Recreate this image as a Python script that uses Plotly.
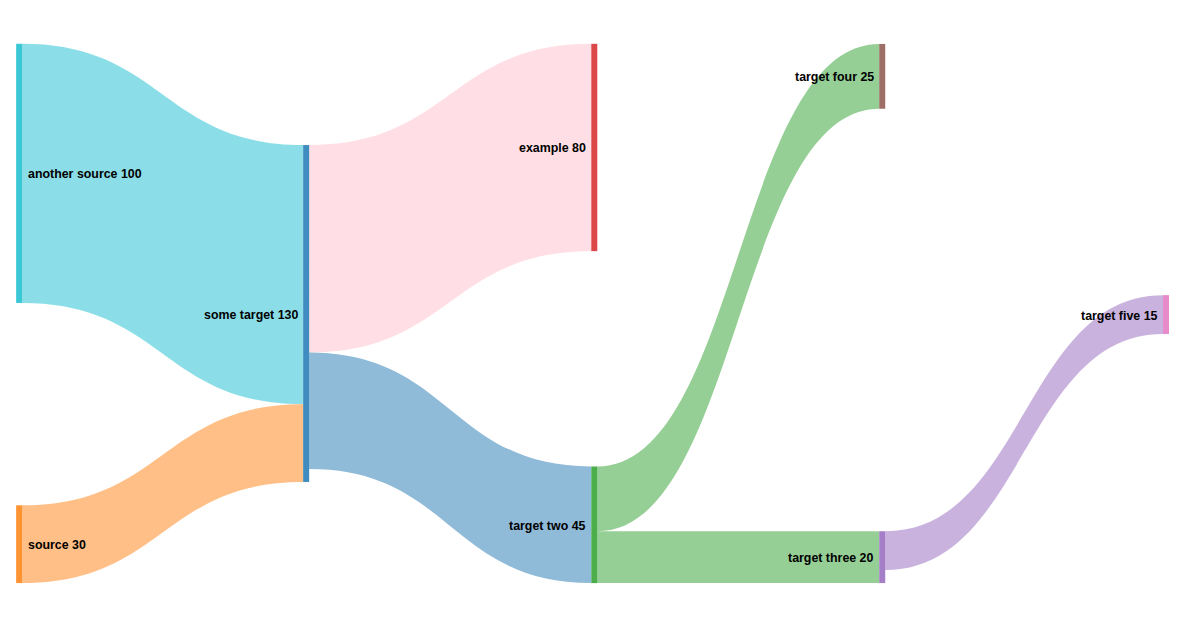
import plotly.graph_objects as go

# Nodes
node_names = ["another source", "source", "some target", "example",
              "target two", "target four", "target three", "target five"]
node_values = [100, 30, 130, 80, 45, 25, 20, 15]
node_colors = ["rgba(23,190,207,0.85)", "rgba(255,127,14,0.85)",
               "rgba(31,119,180,0.85)", "rgba(214,39,40,0.85)",
               "rgba(44,160,44,0.85)", "rgba(140,86,75,0.85)",
               "rgba(148,103,189,0.85)", "rgba(227,119,194,0.85)"]
node_x = [0.001, 0.001, 0.251, 0.502, 0.502, 0.7528, 0.7528, 1.0]
node_y = [0.240, 0.928, 0.500, 0.192, 0.892, 0.060, 0.952, 0.502]
label_side = ["right", "right", "left", "left", "left", "left", "left", "left"]

# Links
link_source = [0, 1, 2, 2, 4, 4, 6]
link_target = [2, 2, 3, 4, 5, 6, 7]
link_value = [100, 30, 80, 45, 25, 20, 15]
link_colors = ["rgba(23,190,207,0.5)", "rgba(255,127,14,0.5)",
               "rgba(255,192,203,0.5)", "rgba(31,119,180,0.5)",
               "rgba(44,160,44,0.5)", "rgba(44,160,44,0.5)",
               "rgba(148,103,189,0.5)"]

labels = [f"{n} {v}" for n, v in zip(node_names, node_values)]

THICK = 6
GAP = 4

fig = go.Figure(go.Sankey(
    arrangement="fixed",
    node=dict(
        label=[""] * len(labels),
        customdata=labels,
        hovertemplate="%{customdata}<extra></extra>",
        color=node_colors,
        x=node_x,
        y=node_y,
        pad=114,
        thickness=THICK,
        line=dict(width=0),
    ),
    link=dict(
        source=link_source,
        target=link_target,
        value=link_value,
        color=link_colors,
    ),
    textfont=dict(family="Liberation Sans, Arial", size=12, color="#000",
                  weight="bold", shadow="none"),
))

annotations = []
for lab, x, y, side in zip(labels, node_x, node_y, label_side):
    if side == "right":
        xa, xs = "left", THICK / 2 + GAP
    else:
        xa, xs = "right", -(THICK / 2 + GAP - 1)
    annotations.append(dict(
        text=lab, xref="paper", yref="paper", x=x, y=1 - y,
        xanchor=xa, yanchor="middle", xshift=xs, yshift=-1,
        showarrow=False,
        font=dict(family="Liberation Sans, Arial", size=12.4, color="#000",
                  weight="bold"),
    ))

fig.update_layout(
    width=1200, height=630,
    margin=dict(l=10, r=42, t=36, b=55),
    paper_bgcolor="white",
    plot_bgcolor="white",
    annotations=annotations,
)

fig.write_html("out.html")
